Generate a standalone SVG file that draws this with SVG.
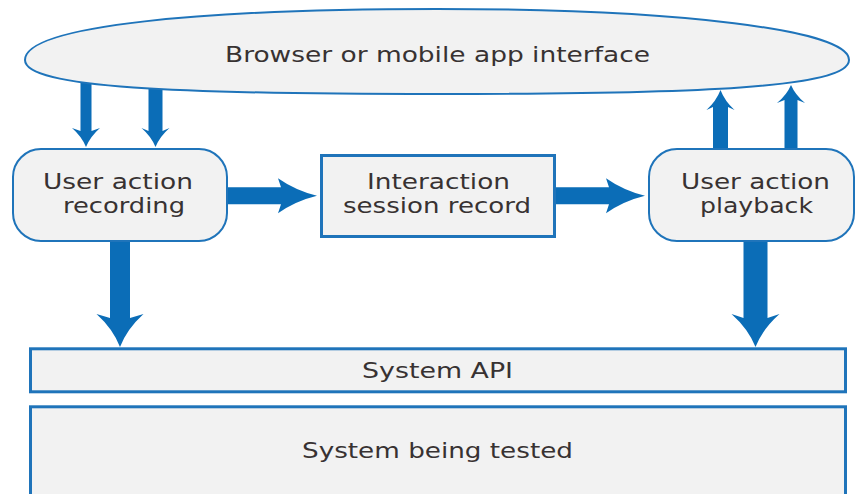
<svg xmlns="http://www.w3.org/2000/svg" width="856" height="494" viewBox="0 0 856 494">
<style>
  .node { fill: #f2f2f2; stroke: #1f74ba; }
  .thin { stroke-width: 2; }
  .thick { stroke-width: 3; }
  .arrow { fill: #0b6db7; stroke: none; }
  text { font-family: "DejaVu Sans", Verdana, sans-serif; font-size: 21px; fill: #383232; }
</style>
<rect width="856" height="494" fill="#ffffff"/>
<g id="connectors">
  <path class="arrow" d="M80.5,70 H91.5 V131 L100,128 Q90.2,136.6 86,147 Q81.8,136.6 72,128 L80.5,131 Z"/>
  <path class="arrow" d="M148.5,70 H162.5 V131 L169.5,128 Q159.7,136.6 155.5,147 Q151.3,136.6 141.5,128 L148.5,131 Z"/>
  <path class="arrow" d="M713,150 H728 V107 L734.5,110 Q724.7,101 720.5,90 Q716.3,101 706.5,110 L713,107 Z"/>
  <path class="arrow" d="M784.5,150 H797.5 V100 L805,103 Q795.2,94.9 791,85 Q786.8,94.9 777,103 L784.5,100 Z"/>
  <path class="arrow" d="M226,187.2 H281 L278,178.2 Q295.6,190.5 317,195.7 Q295.6,200.9 278,213.2 L281,204.2 H226 Z"/>
  <path class="arrow" d="M554,187.2 H609 L606,178.2 Q623.6,190.5 645,195.7 Q623.6,200.9 606,213.2 L609,204.2 H554 Z"/>
  <path class="arrow" d="M110,240 H130 V318 L143.5,314 Q127,328.9 120,347 Q113,328.9 96.5,314 L110,318 Z"/>
  <path class="arrow" d="M743.5,240 H767.5 V318 L779.5,314 Q762.7,328.9 755.5,347 Q748.3,328.9 731.5,314 L743.5,318 Z"/>
</g>
<g id="interface">
  <path class="node thin" d="M437,9 C680,9 849,30 849,60 C849,88 697,94 437,94 C177,94 25,88 25,60 C25,25 207,9 437,9 Z"/>
  <text x="225" y="62" textLength="425" lengthAdjust="spacingAndGlyphs">Browser or mobile app interface</text>
</g>
<g id="recording">
  <rect class="node thin" x="13" y="149" width="214" height="92" rx="28" ry="28"/>
  <text x="43" y="189" textLength="150" lengthAdjust="spacingAndGlyphs">User action</text>
  <text x="63" y="213" textLength="122" lengthAdjust="spacingAndGlyphs">recording</text>
</g>
<g id="session">
  <rect class="node thick" x="321.5" y="155.5" width="233" height="81"/>
  <text x="367" y="189" textLength="143" lengthAdjust="spacingAndGlyphs">Interaction</text>
  <text x="343" y="213" textLength="188" lengthAdjust="spacingAndGlyphs">session record</text>
</g>
<g id="playback">
  <rect class="node thin" x="649" y="149" width="205" height="92" rx="28" ry="28"/>
  <text x="681" y="189" textLength="149" lengthAdjust="spacingAndGlyphs">User action</text>
  <text x="700" y="213" textLength="113" lengthAdjust="spacingAndGlyphs">playback</text>
</g>
<g id="api">
  <rect class="node thick" x="30.5" y="348.8" width="815" height="43"/>
  <text x="362" y="378" textLength="151" lengthAdjust="spacingAndGlyphs">System API</text>
</g>
<g id="system">
  <rect class="node thick" x="30.5" y="406.8" width="815" height="100"/>
  <text x="302" y="458" textLength="271" lengthAdjust="spacingAndGlyphs">System being tested</text>
</g>
</svg>
